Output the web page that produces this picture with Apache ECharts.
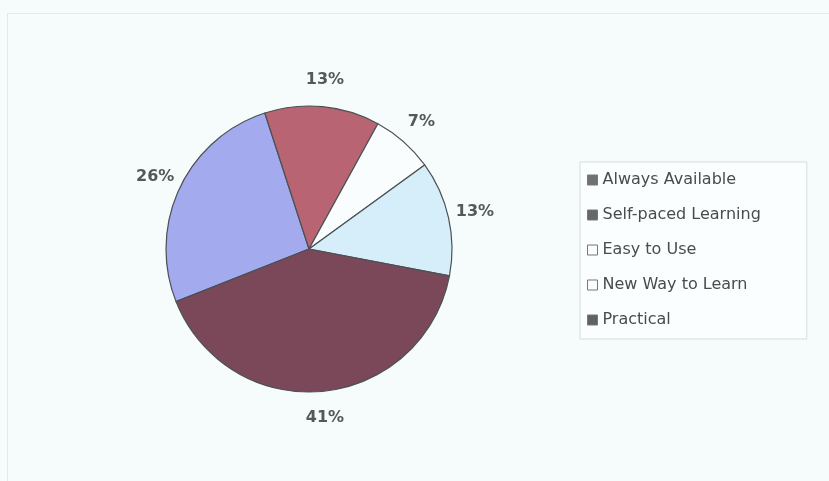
<!DOCTYPE html>
<html>
<head>
<meta charset="utf-8">
<script src="https://cdn.jsdelivr.net/npm/echarts@6/dist/echarts.min.js"></script>
<style>
  html, body { margin: 0; padding: 0; background: #f6fcfb; }
  #frame {
    position: absolute; left: 7px; top: 13px; width: 822px; height: 468px;
    border-left: 1px solid #e2e9e8; border-top: 1px solid #e2e9e8;
  }
  #chart { position: absolute; left: 0; top: 0; width: 829px; height: 481px; }
</style>
</head>
<body>
<div id="frame"></div>
<div id="chart"></div>
<script>
const categories = ['Always Available', 'Self-paced Learning', 'Easy to Use', 'New Way to Learn', 'Practical']
const shares = [26, 13, 7, 13, 41]
const sliceColors = ['#a3aaee', '#b86472', '#f9fdfd', '#d6eefa', '#7a4858']
const legendSwatches = ['#707272', '#666868', '#fbfdfd', '#fbfdfd', '#606262']

const chart = echarts.init(document.getElementById('chart'))

chart.setOption({
  animation: false,
  legend: {
    orient: 'vertical',
    left: 580,
    top: 162,
    padding: [10, 46, 11, 7],
    itemWidth: 10,
    itemHeight: 10,
    itemGap: 19,
    backgroundColor: '#fafefe',
    borderColor: '#d6dbdb',
    borderWidth: 1,
    textStyle: {
      fontFamily: 'DejaVu Sans',
      fontSize: 16,
      color: '#4a4c4c',
      lineHeight: 16,
    },
    data: categories.map((name, i) => ({
      name,
      icon: 'rect',
      itemStyle: {color: legendSwatches[i], borderColor: '#777', borderWidth: 1},
    })),
  },
  series: [
    {
      type: 'pie',
      center: [309, 249],
      radius: 143,
      startAngle: 201.6,
      clockwise: true,
      avoidLabelOverlap: false,
      itemStyle: {borderColor: '#4a5154', borderWidth: 1.2},
      emphasis: {disabled: true},
      label: {
        position: 'outside',
        formatter: '{d}%',
        fontFamily: 'DejaVu Sans',
        fontWeight: 'bold',
        fontSize: 16,
        color: '#545858',
        distanceToLabelLine: 0,
      },
      labelLine: {show: false, length: 27, length2: 0},
      labelLayout: () => ({align: 'center', verticalAlign: 'middle'}),
      data: categories.map((name, i) => ({
        name,
        value: shares[i],
        itemStyle: {color: sliceColors[i]},
      })),
    },
  ],
})
</script>
</body>
</html>
